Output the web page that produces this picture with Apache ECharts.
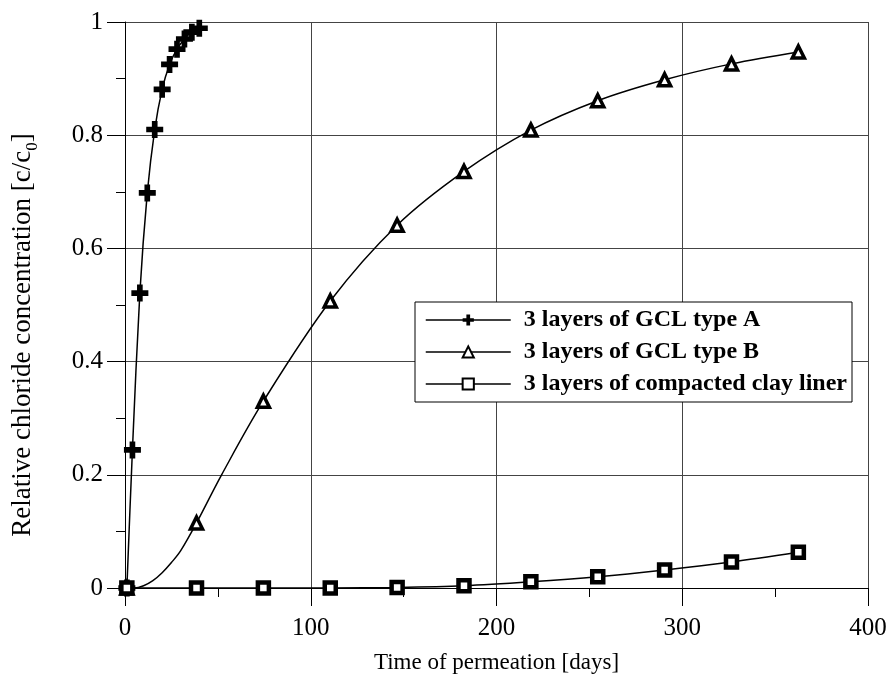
<!DOCTYPE html>
<html>
<head>
<meta charset="utf-8">
<script src="https://cdn.jsdelivr.net/npm/echarts@6/dist/echarts.min.js"></script>
<style>
html, body { margin: 0; padding: 0; background: #fff; }
#chart { width: 887px; height: 675px; }
</style>
</head>
<body>
<div id="chart"></div>
<script>
// values (days, c/c0)
var daysA = [1, 4, 8, 12, 16, 20, 24, 28, 32, 36, 40];
var concA = [0, 0.244, 0.521, 0.698, 0.81, 0.881, 0.925, 0.952, 0.97, 0.982, 0.989];

var daysB = [1, 38.5, 74.5, 110.5, 146.5, 182.5, 218.5, 254.5, 290.5, 326.5, 362.5];
var concB = [0, 0.115, 0.33, 0.507, 0.641, 0.736, 0.809, 0.861, 0.898, 0.926, 0.947];

// type B curve read separately, it bends before the 2nd marker
var curveDaysB = [1, 5, 10, 15, 20, 25, 30, 38.5, 52, 74.5, 110.5, 146.5, 182.5, 218.5, 254.5, 290.5, 326.5, 362.5];
var curveConcB = [0, 0, 0.004, 0.013, 0.027, 0.045, 0.066, 0.115, 0.2, 0.33, 0.507, 0.641, 0.736, 0.809, 0.861, 0.898, 0.926, 0.947];

var daysC = [1, 38.5, 74.5, 110.5, 146.5, 182.5, 218.5, 254.5, 290.5, 326.5, 362.5];
var concC = [0, 0, 0, 0, 0.001, 0.004, 0.011, 0.02, 0.032, 0.046, 0.063];

var names = ['3 layers of GCL type A', '3 layers of GCL type B', '3 layers of compacted clay liner'];

function pairs (xs, ys) {
  return xs.map(function (x, i) { return [x, ys[i]] })
}

var serif = 'Liberation Serif'
var crossPath = 'path://M4,0H8V4H12V8H8V12H4V8H0V4H4Z'

var chart = echarts.init(document.getElementById('chart'))
chart.setOption({
  animation: false,
  backgroundColor: '#fff',
  grid: { left: 125, right: 19, top: 22, bottom: 87, containLabel: false, outerBoundsMode: 'none' },
  legend: {
    orient: 'vertical',
    left: 415,
    top: 302,
    padding: [6, 5, 6, 10],
    itemGap: 8,
    itemWidth: 85,
    itemHeight: 14,
    backgroundColor: '#fff',
    borderColor: '#000',
    borderWidth: 1,
    borderRadius: 0,
    selectedMode: false,
    data: names,
    lineStyle: { color: '#000', width: 1.5, opacity: 1, type: 'solid' },
    textStyle: { fontFamily: serif, fontSize: 24, fontWeight: 'bold', color: '#000', padding: [0, 0, 0, 8] }
  },
  xAxis: {
    type: 'value',
    min: 0,
    max: 400,
    interval: 100,
    name: 'Time of permeation [days]',
    nameLocation: 'middle',
    nameGap: 63,
    nameTextStyle: { fontFamily: serif, fontSize: 23, color: '#000' },
    axisLine: { onZero: false, lineStyle: { color: '#000', width: 1 } },
    axisTick: { show: true, length: 18, lineStyle: { color: '#000' } },
    minorTick: { show: true, splitNumber: 2, length: 9, lineStyle: { color: '#000' } },
    axisLabel: { margin: 28, fontFamily: serif, fontSize: 25, color: '#000' },
    splitLine: { show: true, lineStyle: { color: '#444', width: 1 } }
  },
  yAxis: {
    type: 'value',
    min: 0,
    max: 1,
    interval: 0.2,
    name: 'Relative chloride concentration [c/c{sub|0}]',
    nameLocation: 'middle',
    nameGap: 84,
    nameRotate: 90,
    nameTextStyle: {
      fontFamily: serif,
      fontSize: 27,
      color: '#000',
      padding: [0, 60, 0, 0],
      rich: {
        sub: { fontFamily: serif, fontSize: 17, color: '#000', verticalAlign: 'bottom', lineHeight: 36 }
      }
    },
    axisLine: { onZero: false, lineStyle: { color: '#000', width: 1 } },
    axisTick: { show: true, length: 18, lineStyle: { color: '#000' } },
    minorTick: { show: true, splitNumber: 2, length: 9, lineStyle: { color: '#000' } },
    axisLabel: { margin: 22, fontFamily: serif, fontSize: 25, color: '#000' },
    splitLine: { show: true, lineStyle: { color: '#444', width: 1 } }
  },
  series: [
    {
      name: names[0],
      type: 'line',
      data: pairs(daysA, concA),
      smooth: 0.3,
      symbol: crossPath,
      symbolSize: 17,
      showAllSymbol: true,
      lineStyle: { color: '#000', width: 1.5 },
      itemStyle: { color: '#000' },
      z: 3
    },
    {
      name: 'curveB',
      type: 'line',
      data: pairs(curveDaysB, curveConcB),
      smooth: 0.35,
      showSymbol: false,
      lineStyle: { color: '#000', width: 1.5 },
      z: 2
    },
    {
      name: names[1],
      type: 'line',
      data: pairs(daysB, concB),
      symbol: 'triangle',
      symbolSize: 12,
      showAllSymbol: true,
      lineStyle: { color: '#000', width: 1.5, opacity: 0 },
      itemStyle: { color: '#fff', borderColor: '#000', borderWidth: 3.5 },
      z: 4
    },
    {
      name: names[2],
      type: 'line',
      data: pairs(daysC, concC),
      smooth: 0.3,
      symbol: 'rect',
      symbolSize: 11,
      showAllSymbol: true,
      lineStyle: { color: '#000', width: 1.5 },
      itemStyle: { color: '#fff', borderColor: '#000', borderWidth: 4.5 },
      z: 4
    }
  ]
})
</script>
</body>
</html>
